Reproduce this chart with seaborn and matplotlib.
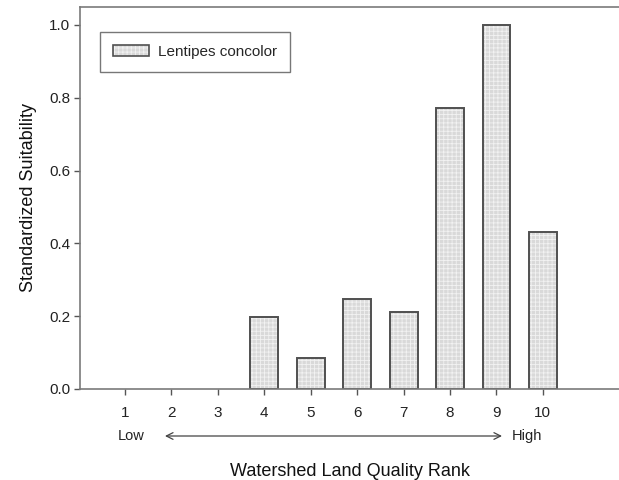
import matplotlib
matplotlib.use("Agg")
import matplotlib.pyplot as plt
import seaborn as sns
import pandas as pd
from matplotlib.patches import Patch

ranks = ["1", "2", "3", "4", "5", "6", "7", "8", "9", "10"]
suitability = [0.0, 0.0, 0.0, 0.199, 0.084, 0.246, 0.212, 0.772, 1.0, 0.432]
series_name = "Lentipes concolor"

sns.set_theme(style="white")
plt.rcParams["font.family"] = ["Liberation Sans", "DejaVu Sans"]
plt.rcParams["hatch.linewidth"] = 0.6

df = pd.DataFrame({"rank": ranks, "value": suitability})

fig = plt.figure(figsize=(6.19, 4.8), dpi=100)
ax = fig.add_axes([80 / 619, (480 - 389) / 480, 1 - 80 / 619, (389 - 7) / 480])

face = "#d9d9d9"
edge = "#505050"
# hatched fill
sns.barplot(data=df, x="rank", y="value", ax=ax, color=face, width=0.6,
            saturation=1, linewidth=0, edgecolor="#f2f2f2", hatch="++++")
# outline
sns.barplot(data=df, x="rank", y="value", ax=ax, color="none", width=0.6,
            saturation=1, linewidth=1.4, edgecolor=edge, fill=False)
for p in ax.patches:
    if p.get_height() == 0:
        p.set_visible(False)

ax.set_xlim(-0.97, 10.64)
ax.set_ylim(0, 1.049)
ax.set_yticks([0.0, 0.2, 0.4, 0.6, 0.8, 1.0])
ax.set_yticklabels(["0.0", "0.2", "0.4", "0.6", "0.8", "1.0"])

for s in ["left", "top", "bottom"]:
    ax.spines[s].set_color("#7a7a7a")
    ax.spines[s].set_linewidth(1.2)
ax.spines["right"].set_visible(False)

ax.tick_params(axis="both", which="major", direction="out", length=4,
               width=1.0, color="#555555", labelsize=11, labelcolor="#222222")
ax.tick_params(axis="x", pad=8)
ax.tick_params(axis="y", pad=3)
ax.xaxis.set_ticks_position("bottom")
ax.yaxis.set_ticks_position("left")

ax.set_ylabel("Standardized Suitability", fontsize=13, color="#111111", labelpad=9)
ax.set_xlabel("Watershed Land Quality Rank", fontsize=13, color="#111111", labelpad=31)

tr = ax.get_xaxis_transform()
y_arrow = (389 - 436) / 382
ax.annotate("", xy=(8.12, y_arrow), xytext=(0.86, y_arrow), xycoords=tr, textcoords=tr,
            arrowprops=dict(arrowstyle="<->", color="#444444", lw=0.9,
                            shrinkA=0, shrinkB=0), annotation_clip=False)
ax.text(0.14, y_arrow, "Low", transform=tr, ha="center", va="center",
        fontsize=10.5, color="#222222", clip_on=False)
ax.text(8.66, y_arrow, "High", transform=tr, ha="center", va="center",
        fontsize=10.5, color="#222222", clip_on=False)

h_fill = Patch(facecolor=face, edgecolor="#f2f2f2", hatch="++++", linewidth=0)
h_edge = Patch(facecolor="none", edgecolor=edge, linewidth=1.2)
leg = ax.legend([(h_fill, h_edge)], [series_name], loc="upper left",
                bbox_to_anchor=((100 - 80) / 539, (389 - 32) / 382),
                frameon=True, fancybox=False, fontsize=11, borderpad=0.85,
                handlelength=2.35, handleheight=0.75, handletextpad=0.6,
                borderaxespad=0)
leg.get_frame().set_edgecolor("#555555")
leg.get_frame().set_linewidth(1.0)

fig.savefig("out.png", dpi=100)
